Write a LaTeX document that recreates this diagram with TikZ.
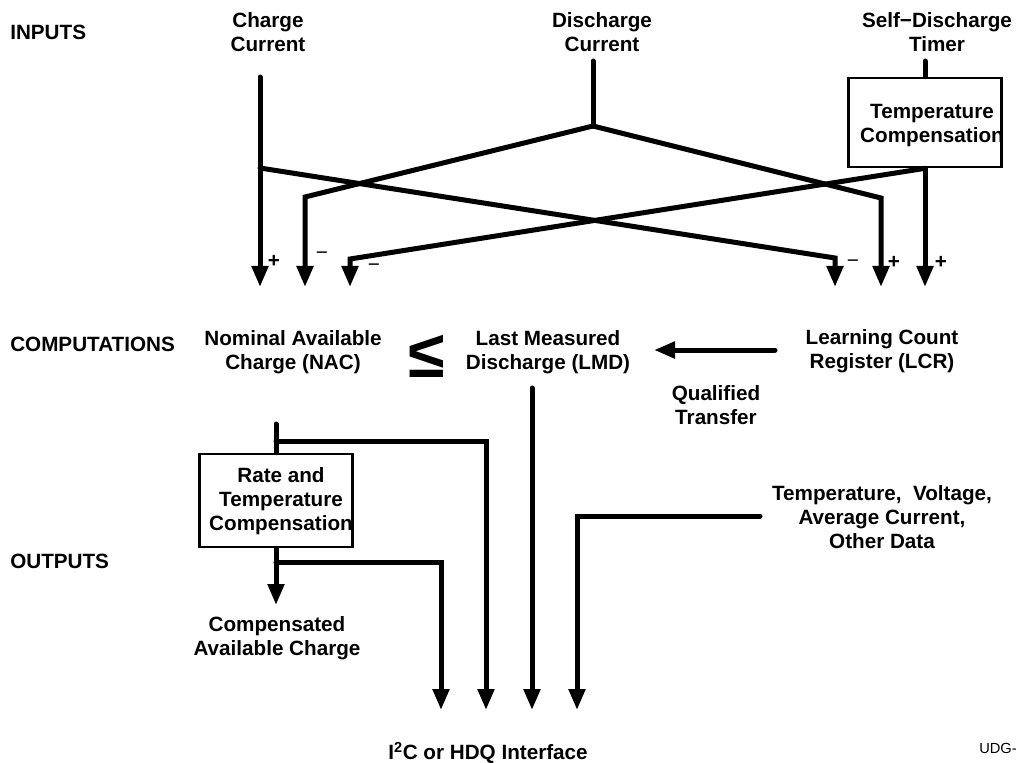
\documentclass[tikz,border=0pt]{standalone}
\usepackage{fontspec}
\setmainfont{Liberation Sans}
\usetikzlibrary{arrows.meta}

\tikzset{
  txt/.style={font=\fontsize{15.5}{18}\selectfont\bfseries,align=center,inner sep=0pt},
  head/.style={txt,anchor=west},
  wire/.style={line width=3.75pt,line cap=round},
  feed/.style={wire,-{Triangle[length=15.75pt,width=12pt]}},
  blk/.style={draw,line width=2pt,minimum width=114.75pt,inner sep=0pt},
  sgn/.style={font=\fontsize{15.5}{18}\selectfont,inner sep=0pt}
}

\begin{document}
\begin{tikzpicture}[x=0.75pt,y=-0.75pt]
    \useasboundingbox (0,0) rectangle (1018,763);
    % row titles
    \node[head] (inputs) at (10,32) {INPUTS};
    \node[head] (comps) at (10,344) {COMPUTATIONS};
    \node[head] (outs) at (10,561) {OUTPUTS};
    % inputs
    \node[txt] (chg) at (268,32) {Charge\\Current};
    \node[txt] (dchg) at (602,32) {Discharge\\Current};
    \node[txt] (sdt) at (937,32) {Self−Discharge\\Timer};
    \node[blk,minimum height=66.75pt] (tcomp) at (925,122.5) {};
    \node[txt] (tctxt) at (932,126) {Temperature\\Compensation};
    % computations
    \node[txt] (nac) at (293,352) {Nominal Available\\Charge (NAC)};
    \node[inner sep=0pt,font=\fontsize{50}{50}\selectfont\bfseries] (leq) at (427,356) {≤};
    \node[txt] (lmd) at (548,352) {Last Measured\\Discharge (LMD)};
    \node[txt] (lcr) at (882,351) {Learning Count\\Register (LCR)};
    \node[txt] (qt) at (716,405) {Qualified\\Transfer};
    % outputs
    \node[blk,minimum height=69.75pt] (rtc) at (276,500.5) {};
    \node[txt] (rtctxt) at (281,501) {Rate and\\Temperature\\Compensation};
    \node[txt] (cac) at (277,638) {Compensated\\Available Charge};
    \node[txt] (tvd) at (882,517) {Temperature,~ Voltage,\\Average Current,\\Other Data};
    \node[txt] (bus) at (488,753) {I\textsuperscript{2}C or HDQ Interface};
    \node[anchor=east,inner sep=0pt,font=\fontsize{11}{11}\selectfont] (udg) at (1017,748) {UDG-};

    % corners and junctions
    \coordinate (c0) at (260,77);
    \coordinate (c1) at (260,168);
    \coordinate (c2) at (835,258);
    \coordinate (d0) at (593,61);
    \coordinate (d1) at (593,126);
    \coordinate (d2) at (305,197);
    \coordinate (d3) at (881,198);
    \coordinate (t0) at (925,61);
    \coordinate (t1) at (350,259);
    \coordinate (tips) at (0,287);
    \coordinate (q0) at (775,350);
    \coordinate (q1) at (654,350);
    \coordinate (n0) at (276,424);
    \coordinate (n1) at (276,441);
    \coordinate (n2) at (486,441);
    \coordinate (r1) at (276,562);
    \coordinate (r2) at (441,562);
    \coordinate (m0) at (532,388);
    \coordinate (v0) at (760,516);
    \coordinate (v1) at (577,516);
    \coordinate (bot) at (0,710);

    % inputs to counters
    \draw[feed] (c0) -- (c0 |- tips);
    \draw[feed] (c1) -- (c2) -- (c2 |- tips);
    \draw[wire] (d0) -- (d1);
    \draw[feed] (d1) -- (d2) -- (d2 |- tips);
    \draw[feed] (d1) -- (d3) -- (d3 |- tips);
    \draw[wire] (t0) -- (tcomp.north);
    \draw[feed] (tcomp.south) -- (t1) -- (t1 |- tips);
    \draw[feed] (tcomp.south) -- (tcomp.south |- tips);
    \node[sgn,font=\fontsize{15.5}{18}\selectfont\bfseries] (p1) at (274,261) {+};
    \node[sgn] (m1) at (322,256) {−};
    \node[sgn] (m2) at (374,268) {−};
    \node[sgn] (m3) at (853,264) {−};
    \node[sgn,font=\fontsize{15.5}{18}\selectfont\bfseries] (p2) at (894,262) {+};
    \node[sgn,font=\fontsize{15.5}{18}\selectfont\bfseries] (p3) at (941,262) {+};

    % transfer
    \draw[feed] (q0) -- (q1);

    % to the interface
    \draw[wire] (n0) -- (rtc.north);
    \draw[feed] (n1) -- (n2) -- (n2 |- bot);
    \draw[feed] (rtc.south) -- (276,605);
    \draw[feed] (r1) -- (r2) -- (r2 |- bot);
    \draw[feed] (m0) -- (m0 |- bot);
    \draw[feed] (v0) -- (v1) -- (v1 |- bot);
\end{tikzpicture}
\end{document}
